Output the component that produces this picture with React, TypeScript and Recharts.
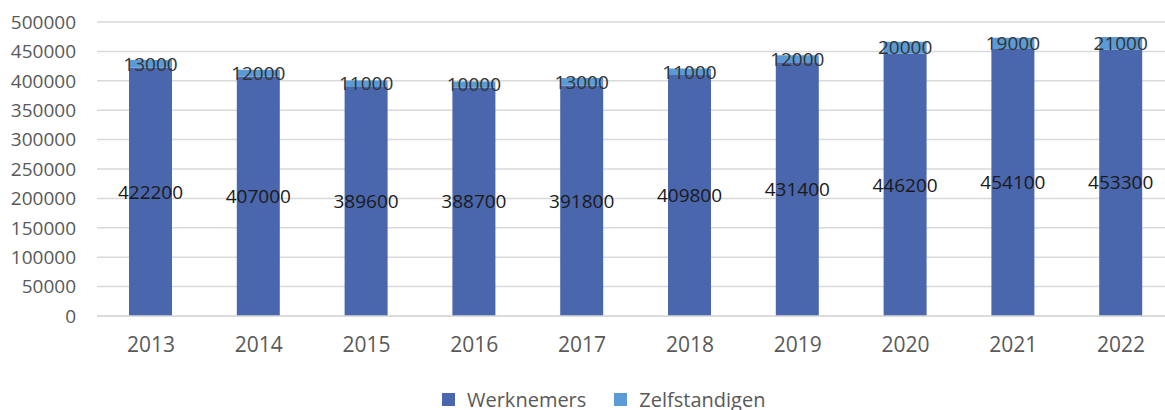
import React from "react";
import {
  Bar,
  BarChart,
  CartesianGrid,
  LabelList,
  Legend,
  XAxis,
  YAxis,
} from "recharts";

const years = ["2013", "2014", "2015", "2016", "2017", "2018", "2019", "2020", "2021", "2022"];
const werknemers = [422200, 407000, 389600, 388700, 391800, 409800, 431400, 446200, 454100, 453300];
const zelfstandigen = [13000, 12000, 11000, 10000, 13000, 11000, 12000, 20000, 19000, 21000];
const yTicks = [0, 50000, 100000, 150000, 200000, 250000, 300000, 350000, 400000, 450000, 500000];

const FONT = "'Open Sans', 'Liberation Sans', sans-serif";
const DARK_BLUE = "#4a66ac";
const LIGHT_BLUE = "#5b9bd5";

const chartData = years.map((year, i) => ({
  year,
  werknemers: werknemers[i],
  zelfstandigen: zelfstandigen[i],
}));

function LegendContent() {
  const items = [
    { name: "Werknemers", color: DARK_BLUE },
    { name: "Zelfstandigen", color: LIGHT_BLUE },
  ];
  return (
    <div style={{ display: "flex", alignItems: "center", height: 24, fontFamily: FONT, fontSize: 20, color: "#595959" }}>
      {items.map((item, i) => (
        <div key={item.name} style={{ display: "flex", alignItems: "center", marginRight: i === 0 ? 28 : 0 }}>
          <span style={{ display: "inline-block", width: 13, height: 13, background: item.color, marginRight: 12 }} />
          <span>{item.name}</span>
        </div>
      ))}
    </div>
  );
}

export default function App() {
  return (
    <div style={{ position: "absolute", left: 0, top: 0, width: 1165, height: 410, overflow: "hidden", background: "#fff" }}>
      <BarChart
        width={1175}
        height={410}
        data={chartData}
        margin={{ top: 22, right: 0, left: 0, bottom: 40 }}
        barSize={43}
      >
        <CartesianGrid vertical={false} stroke="#d9d9d9" strokeWidth={1.5} />
        <XAxis
          dataKey="year"
          height={30}
          tickLine={false}
          axisLine={{ stroke: "#d9d9d9", strokeWidth: 1.5 }}
          tickMargin={15}
          tick={{ fill: "#595959", fontSize: 21, fontFamily: FONT }}
        />
        <YAxis
          width={97}
          domain={[0, 500000]}
          ticks={yTicks}
          interval={0}
          axisLine={false}
          tickLine={false}
          tickMargin={15}
          tick={{ fill: "#595959", fontSize: 19, fontFamily: FONT }}
        />
        <Legend
          content={<LegendContent />}
          wrapperStyle={{ top: 387, left: 442, bottom: "auto", width: "auto" }}
        />
        <Bar dataKey="werknemers" name="Werknemers" stackId="a" fill={DARK_BLUE} isAnimationActive={false}>
          <LabelList dataKey="werknemers" position="center" fill="#1a1a1a" fontSize={19} fontFamily={FONT} />
        </Bar>
        <Bar dataKey="zelfstandigen" name="Zelfstandigen" stackId="a" fill={LIGHT_BLUE} isAnimationActive={false}>
          <LabelList dataKey="zelfstandigen" position="center" fill="#333333" fontSize={19} fontFamily={FONT} />
        </Bar>
      </BarChart>
    </div>
  );
}
